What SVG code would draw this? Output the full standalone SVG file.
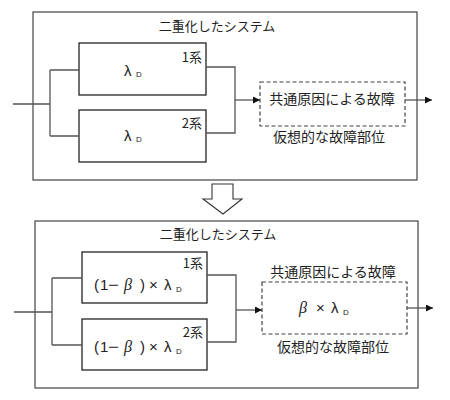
<svg xmlns="http://www.w3.org/2000/svg" width="450" height="400" viewBox="0 0 450 400">
<style>
.outer{fill:#fff;stroke:#444;stroke-width:1.2}
.box{fill:#fff;stroke:#111;stroke-width:1.2}
.dash{fill:#fff;stroke:#444;stroke-width:1.2;stroke-dasharray:4 2.5}
.conn{fill:none;stroke:#555;stroke-width:1.3}
.jp{font-family:"Noto Sans CJK JP","Liberation Sans",sans-serif;fill:#222}
.t13{font-size:13px}
.t14{font-size:14px}
.sym{font-family:"Liberation Sans","Noto Sans CJK JP",sans-serif;font-size:15px;fill:#222}
.minus{font-family:"Liberation Sans",sans-serif;font-size:15px;fill:#222}
.sub{font-family:"Liberation Sans",sans-serif;font-size:8px;fill:#222}
.beta{font-family:"Liberation Serif",serif;font-style:italic;font-size:16px;fill:#222}
</style>
<defs>
<marker id="ah" viewBox="0 0 10 10" refX="10" refY="5" markerWidth="7" markerHeight="7" markerUnits="userSpaceOnUse" orient="auto">
<path d="M0,0 L10,5 L0,10 z" fill="#111"/>
</marker>
</defs>

<g id="system-top">
<rect class="outer" x="33" y="12" width="384" height="168"/>
<text class="jp t13" x="217" y="31" text-anchor="middle">二重化したシステム</text>
</g>
<g id="unit1-top">
<rect class="box" x="79" y="43" width="127" height="52"/>
<text class="sym" x="124" y="76">λ</text><text class="sub" x="136" y="77">D</text>
<text class="jp t13" x="202" y="62" text-anchor="end">1系</text>
</g>
<g id="unit2-top">
<rect class="box" x="79" y="110" width="127" height="52"/>
<text class="sym" x="124" y="141">λ</text><text class="sub" x="136" y="142">D</text>
<text class="jp t13" x="202" y="128" text-anchor="end">2系</text>
</g>
<g id="ccf-top">
<rect class="dash" x="260" y="82" width="145" height="44"/>
<text class="jp t14" x="332" y="104" text-anchor="middle">共通原因による故障</text>
<text class="jp t14" x="329" y="142" text-anchor="middle">仮想的な故障部位</text>
</g>

<g id="transform-arrow">
<polygon points="212,184 233,184 233,199 242,199 223,214 203,199 212,199" fill="#fff" stroke="#333" stroke-width="1.1"/>
</g>

<g id="system-bottom">
<rect class="outer" x="35" y="221" width="383" height="167"/>
<text class="jp t13" x="218" y="239" text-anchor="middle">二重化したシステム</text>
</g>
<g id="unit1-bottom">
<rect class="box" x="82" y="252" width="125" height="51"/>
<text class="sym" x="94" y="290">(</text>
<text class="sym" x="100" y="290">1</text>
<text class="minus" x="108" y="290" textLength="11" lengthAdjust="spacingAndGlyphs">−</text>
<text class="beta" x="124" y="290">β</text>
<text class="sym" x="140" y="290">)</text>
<text class="sym" x="149" y="290">×</text>
<text class="sym" x="164" y="290">λ</text><text class="sub" x="176" y="292">D</text>
<text class="jp t13" x="203" y="268" text-anchor="end">1系</text>
</g>
<g id="unit2-bottom">
<rect class="box" x="82" y="319" width="125" height="51"/>
<text class="sym" x="94" y="352">(</text>
<text class="sym" x="100" y="352">1</text>
<text class="minus" x="108" y="352" textLength="11" lengthAdjust="spacingAndGlyphs">−</text>
<text class="beta" x="124" y="352">β</text>
<text class="sym" x="140" y="352">)</text>
<text class="sym" x="149" y="352">×</text>
<text class="sym" x="164" y="352">λ</text><text class="sub" x="176" y="354">D</text>
<text class="jp t13" x="203" y="337" text-anchor="end">2系</text>
</g>
<g id="ccf-bottom">
<rect class="dash" x="262" y="282" width="145" height="52"/>
<text class="jp t14" x="333" y="277" text-anchor="middle">共通原因による故障</text>
<text class="beta" x="299" y="313">β</text>
<text class="sym" x="316" y="313">×</text>
<text class="sym" x="331" y="313">λ</text><text class="sub" x="343" y="315">D</text>
<text class="jp t14" x="333" y="352" text-anchor="middle">仮想的な故障部位</text>
</g>

<g id="connectors">
<path class="conn" d="M13,104 H50 M50,70 V136 M50,70 H79 M50,136 H79"/>
<path class="conn" d="M206,67 H235 V133 H206"/>
<path class="conn" d="M235,100 H260" marker-end="url(#ah)"/>
<path class="conn" d="M405,100 H432" marker-end="url(#ah)"/>
<path class="conn" d="M14,312 H52 M52,278 V345 M52,278 H82 M52,345 H82"/>
<path class="conn" d="M207,275 H236 V342 H207"/>
<path class="conn" d="M236,310 H262" marker-end="url(#ah)"/>
<path class="conn" d="M407,308 H433" marker-end="url(#ah)"/>
</g>
</svg>
